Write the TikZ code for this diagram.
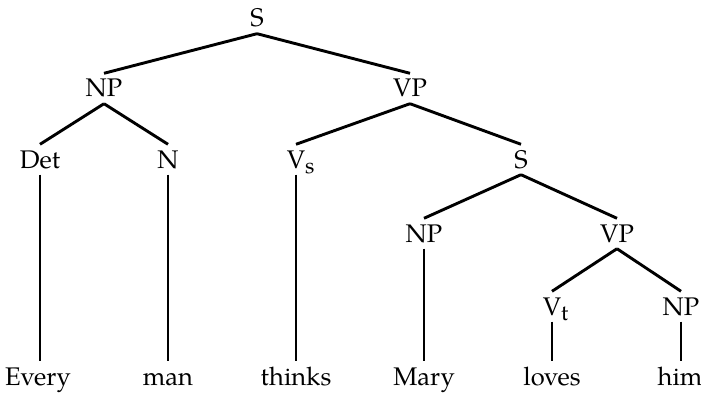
\documentclass[tikz,border=0pt]{standalone}
\usepackage{fontspec}
\setmainfont{TeX Gyre Pagella}
\newcommand{\subsc}[1]{\rlap{\raisebox{-5.5pt}{\fontsize{22}{22}\selectfont #1}}}
\begin{document}
\begin{tikzpicture}[x=1pt,y=-1pt,
  cat/.style={anchor=base,inner xsep=0pt,inner ysep=6.5pt,text height=17pt,text depth=0pt,
    font=\fontsize{25.5}{28}\selectfont},
  edge/.style={line width=2.9pt}]
\useasboundingbox (0,0) rectangle (701,393);
% categories
\node[cat] (S)   at (257,27)  {S};
\node[cat] (NP)  at (104,97)  {NP};
\node[cat] (VP)  at (410,97)  {VP};
\node[cat] (Det) at (40,168)  {Det};
\node[cat] (N)   at (168,168) {N};
\node[cat] (Vs)  at (296,168) {V\subsc{s}};
\node[cat] (S2)  at (521,168) {S};
\node[cat] (NP2) at (424,242) {NP};
\node[cat] (VP2) at (617,242) {VP};
\node[cat] (Vt)  at (552,315) {V\subsc{t}};
\node[cat] (NP3) at (681,315) {NP};
% words
\node[cat] (w1) at (38,385)  {Every};
\node[cat] (w2) at (168,385) {man};
\node[cat] (w3) at (296,385) {thinks};
\node[cat] (w4) at (424,385) {Mary};
\node[cat] (w5) at (552,385) {loves};
\node[cat] (w6) at (680,385) {him};
% edges
\draw[edge] (S.south) -- (NP.north);
\draw[edge] (S.south) -- (VP.north);
\draw[edge] (NP.south) -- (Det.north);
\draw[edge] (NP.south) -- (N.north);
\draw[edge] (VP.south) -- (Vs.north);
\draw[edge] (VP.south) -- (S2.north);
\draw[edge] (S2.south) -- (NP2.north);
\draw[edge] (S2.south) -- (VP2.north);
\draw[edge] (VP2.south) -- (Vt.north);
\draw[edge] (VP2.south) -- (NP3.north);
\draw[edge] (Det.south) -- (w1.north -| Det.south);
\draw[edge] (N.south) -- (w2.north);
\draw[edge] (Vs.south) -- (w3.north);
\draw[edge] (NP2.south) -- (w4.north);
\draw[edge] (Vt.south) -- (w5.north);
\draw[edge] (NP3.south) -- (w6.north -| NP3.south);
\end{tikzpicture}
\end{document}
